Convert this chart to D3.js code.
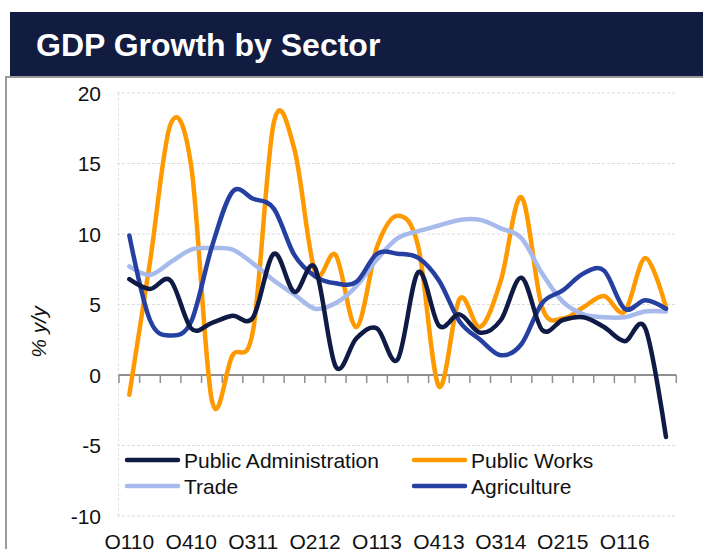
<!DOCTYPE html>
<html>
<head>
<meta charset="utf-8">
<script src="https://cdn.jsdelivr.net/npm/d3@7"></script>
<style>
  html, body { margin: 0; padding: 0; background: #fff; }
  svg { display: block; font-family: "Liberation Sans", Arial, sans-serif; }
</style>
</head>
<body>
<svg id="chart" width="703" height="549"></svg>
<script>
// Quarterly year-on-year growth, Q1 2010 – Q3 2016
const quarters = [
  "Q110","Q210","Q310","Q410","Q111","Q211","Q311","Q411","Q112",
  "Q212","Q312","Q412","Q113","Q213","Q313","Q413","Q114","Q214",
  "Q314","Q414","Q115","Q215","Q315","Q415","Q116","Q216","Q316"
];
const publicAdministration = [6.8, 6.1, 6.7, 3.3, 3.7, 4.2, 4.1, 8.6, 5.9, 7.6, 0.6, 2.6, 3.3, 1.1,
  7.3, 3.5, 4.3, 3.0, 3.9, 6.9, 3.2, 3.9, 4.1, 3.4, 2.4, 3.3, -4.4];
const publicWorks = [-1.4, 8.0, 17.8, 14.8, -1.8, 1.4, 3.2, 17.9, 16.0, 7.3, 8.5, 3.4, 9.1, 11.3,
  9.1, -0.8, 5.4, 3.4, 6.7, 12.6, 4.8, 4.0, 4.8, 5.6, 4.5, 8.3, 4.8];
const trade = [7.7, 7.1, 8.0, 8.9, 9.0, 8.9, 7.9, 6.7, 5.7, 4.7, 5.1, 6.3, 8.2, 9.7,
  10.2, 10.6, 11.0, 11.0, 10.4, 9.7, 7.2, 5.2, 4.3, 4.1, 4.1, 4.5, 4.5];
const agriculture = [9.9, 3.9, 2.8, 3.8, 9.1, 13.0, 12.5, 11.8, 8.5, 7.0, 6.5, 6.6, 8.6, 8.6,
  8.3, 6.7, 3.8, 2.5, 1.4, 2.2, 5.1, 6.0, 7.2, 7.4, 4.7, 5.3, 4.7];
const yTicks = [-10, -5, 0, 5, 10, 15, 20];
const labelEvery = 3;

const series = [
  { name: "Public Administration", values: publicAdministration, color: "#0f1b45" },
  { name: "Public Works", values: publicWorks, color: "#ff9900" },
  { name: "Trade", values: trade, color: "#a7baec" },
  { name: "Agriculture", values: agriculture, color: "#2540a0" }
];
// draw order: back to front
const drawOrder = ["Public Works", "Trade", "Agriculture", "Public Administration"];

const svg = d3.select("#chart");

// Title banner
svg.append("rect").attr("x", 10).attr("y", 12).attr("width", 693).attr("height", 64)
  .attr("fill", "#121b40");
svg.append("text").attr("x", 36).attr("y", 56)
  .attr("fill", "#fff").attr("font-size", 32).attr("font-weight", "bold")
  .text("GDP Growth by Sector");

// Frame
svg.append("path").attr("d", "M6,549 V77 H703")
  .attr("fill", "none").attr("stroke", "#9a9a9a").attr("stroke-width", 2);

const x = d3.scaleBand().domain(quarters).range([119, 676.3]).padding(0);
const y = d3.scaleLinear().domain([-10, 20]).range([516, 93]);
const cx = q => x(q) + x.bandwidth() / 2;

// Gridlines
const grid = svg.append("g");
grid.selectAll("line.h").data(yTicks).join("line")
  .attr("x1", 117).attr("x2", 676.3)
  .attr("y1", d => y(d)).attr("y2", d => y(d))
  .attr("stroke", "#dcdcdc").attr("stroke-width", 1).attr("stroke-dasharray", "3,2");
grid.append("line").attr("x1", 118.5).attr("x2", 118.5).attr("y1", y(20)).attr("y2", y(-10))
  .attr("stroke", "#e2e2e2").attr("stroke-width", 1).attr("stroke-dasharray", "3,2");

// Y tick labels
svg.append("g").selectAll("text").data(yTicks).join("text")
  .attr("x", 101).attr("y", d => y(d)).attr("dy", "0.36em")
  .attr("text-anchor", "end").attr("font-size", 21).attr("fill", "#111")
  .text(d => d);

// Y axis title
svg.append("text").attr("transform", "translate(46,332) rotate(-90)")
  .attr("text-anchor", "middle").attr("font-size", 21).attr("font-style", "italic")
  .attr("fill", "#111").text("% y/y");

// X axis on the zero line, ticks between categories
const gx = svg.append("g").attr("transform", `translate(0,${y(0)})`);
const boundaries = quarters.map(q => x(q)).concat([x.range()[1]]);
gx.selectAll("line.tick").data(boundaries).join("line")
  .attr("x1", d => d).attr("x2", d => d).attr("y1", 0).attr("y2", 8)
  .attr("stroke", "#8f8f8f").attr("stroke-width", 1.5);
gx.append("line").attr("x1", x.range()[0]).attr("x2", x.range()[1])
  .attr("stroke", "#8f8f8f").attr("stroke-width", 2.2);

// X category labels along the bottom
svg.append("g").selectAll("text")
  .data(quarters.filter((q, i) => i % labelEvery === 0)).join("text")
  .attr("x", d => cx(d)).attr("y", 549)
  .attr("text-anchor", "middle").attr("font-size", 21).attr("fill", "#111")
  .text(d => d);

// Series lines
const line = d3.line().curve(d3.curveCatmullRom.alpha(0))
  .x((d, i) => cx(quarters[i])).y(d => y(d));
svg.append("g").selectAll("path")
  .data(drawOrder.map(n => series.find(s => s.name === n))).join("path")
  .attr("d", d => line(d.values))
  .attr("fill", "none").attr("stroke", d => d.color)
  .attr("stroke-width", 4.5).attr("stroke-linejoin", "round").attr("stroke-linecap", "round");

// Legend
const legendPos = [
  { x: 125, y: 460 }, { x: 412, y: 460 },
  { x: 125, y: 486 }, { x: 412, y: 486 }
];
const leg = svg.append("g").selectAll("g").data(series).join("g")
  .attr("transform", (d, i) => `translate(${legendPos[i].x},${legendPos[i].y})`);
leg.append("line").attr("x1", 2).attr("x2", 53).attr("y1", 0).attr("y2", 0)
  .attr("stroke", d => d.color).attr("stroke-width", 4.5).attr("stroke-linecap", "round");
leg.append("text").attr("x", 59).attr("dy", "0.36em")
  .attr("font-size", 21).attr("fill", "#111").text(d => d.name);
</script>
</body>
</html>
